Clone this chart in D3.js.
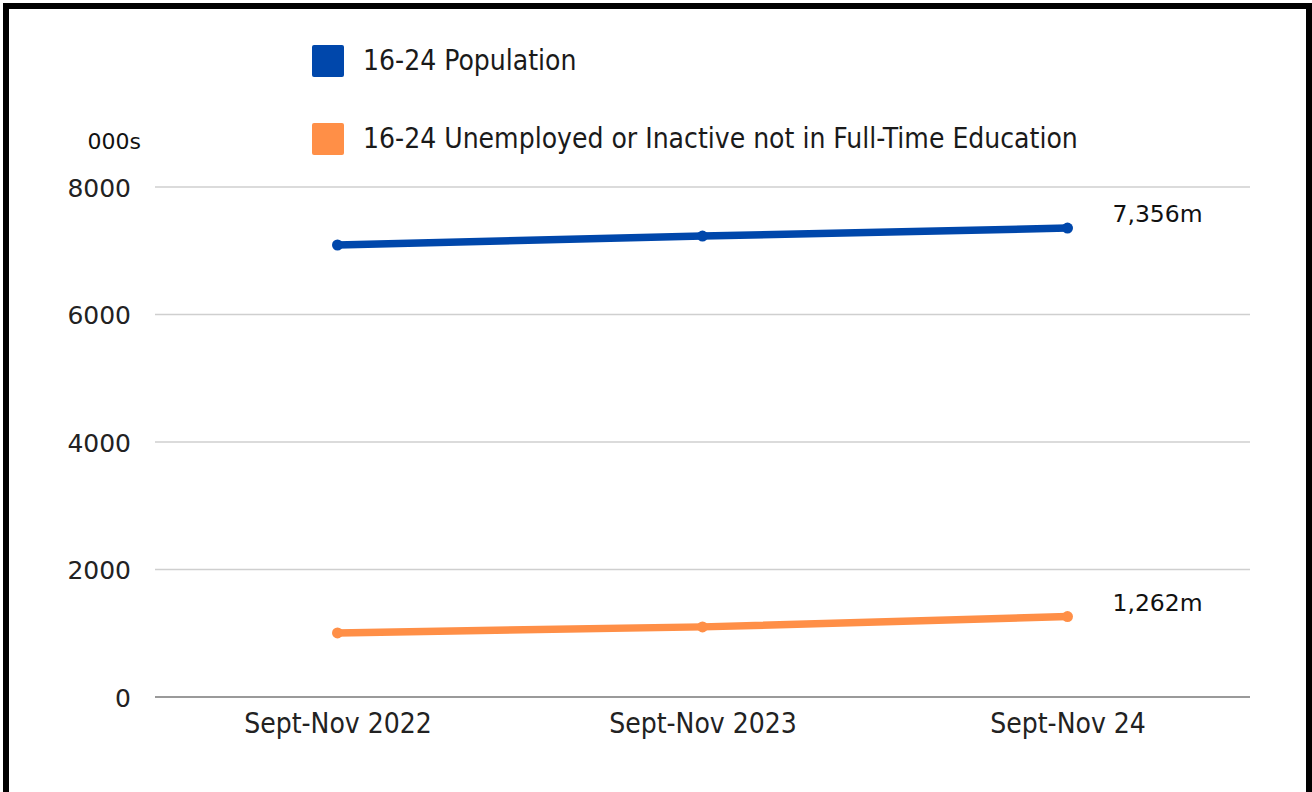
<!DOCTYPE html>
<html>
<head>
<meta charset="utf-8">
<script src="https://cdn.jsdelivr.net/npm/d3@7"></script>
<style>
  body { margin: 0; background: #fff; }
  svg { display: block; }
</style>
</head>
<body>
<div id="chart"></div>
<script>
(function () {

  // Data
  const periods = ["Sept-Nov 2022", "Sept-Nov 2023", "Sept-Nov 24"]
  const population = [7090, 7230, 7356]
  const neet = [1005, 1100, 1262]
  const seriesNames = ["16-24 Population", "16-24 Unemployed or Inactive not in Full-Time Education"]
  const endLabels = ["7,356m", "1,262m"]
  const yTicks = [0, 2000, 4000, 6000, 8000]

  const W = 1312
  const H = 792
  const margin = { top: 187, right: 62, bottom: 95, left: 155 }
  const width = W - margin.left - margin.right
  const height = H - margin.top - margin.bottom

  const colors = ["#0047AB", "#FF8F47"]
  const narrow = "'Liberation Sans Narrow', 'DejaVu Sans Condensed', 'Arial Narrow', sans-serif"
  const plain = "'DejaVu Sans', 'Noto Sans', sans-serif"

  const root = d3.select("#chart").append("svg")
      .attr("width", W)
      .attr("height", H)

  // frame
  root.append("rect")
      .attr("x", 6).attr("y", 6)
      .attr("width", 1303).attr("height", 820)
      .attr("fill", "none")
      .attr("stroke", "#000")
      .attr("stroke-width", 6)

  const svg = root.append("g")
      .attr("transform", "translate(" + margin.left + "," + margin.top + ")")

  const x = d3.scalePoint()
    .domain(periods)
    .range([0, width])
    .padding(0.5)

  const y = d3.scaleLinear()
    .domain([0, 8000])
    .range([height, 0])

  // gridlines
  svg.selectAll(".grid")
    .data(yTicks)
    .join("line")
      .attr("class", "grid")
      .attr("x1", 0).attr("x2", width)
      .attr("y1", d => y(d)).attr("y2", d => y(d))
      .attr("stroke", d => d === 0 ? "#9a9a9a" : "#cfcfcf")
      .attr("stroke-width", d => d === 0 ? 2 : 1.3)

  // y axis labels
  const yAxis = svg.append("g")
      .attr("transform", "translate(-21,0)")
      .call(d3.axisLeft(y).tickValues(yTicks).tickSize(0).tickFormat(d3.format("d")))
  yAxis.select(".domain").remove()
  yAxis.selectAll("text")
      .attr("font-family", plain)
      .attr("font-size", 25)
      .attr("fill", "#222")
      .attr("dy", "0.36em")

  svg.append("text")
      .attr("x", -14)
      .attr("y", -38)
      .attr("text-anchor", "end")
      .attr("font-family", plain)
      .attr("font-size", 22)
      .attr("fill", "#111")
      .text("000s")

  // x axis labels
  const xAxis = svg.append("g")
      .attr("transform", "translate(0," + height + ")")
      .call(d3.axisBottom(x).tickSize(0).tickPadding(16))
  xAxis.select(".domain").remove()
  xAxis.selectAll("text")
      .attr("font-family", narrow)
      .attr("font-size", 28)
      .attr("fill", "#222")

  // lines
  const line = d3.line()
    .x((d, i) => x(periods[i]))
    .y(d => y(d))

  const series = [population, neet]

  series.forEach((s, k) => {
    svg.append("path")
        .datum(s)
        .attr("d", line)
        .attr("fill", "none")
        .attr("stroke", colors[k])
        .attr("stroke-width", 7.5)
        .attr("stroke-linecap", "round")

    svg.selectAll(".pt" + k)
      .data(s)
      .join("circle")
        .attr("class", "pt" + k)
        .attr("cx", (d, i) => x(periods[i]))
        .attr("cy", d => y(d))
        .attr("r", 5.5)
        .attr("fill", colors[k])

    svg.append("text")
        .attr("x", x(periods[2]) + 45)
        .attr("y", y(s[2]) - 6)
        .attr("font-family", plain)
        .attr("font-size", 23.5)
        .attr("fill", "#111")
        .text(endLabels[k])
  })

  // legend
  const legend = root.append("g")
      .attr("transform", "translate(312,45)")

  seriesNames.forEach((name, k) => {
    const g = legend.append("g")
        .attr("transform", "translate(0," + (k * 78) + ")")
    g.append("rect")
        .attr("width", 32).attr("height", 32)
        .attr("rx", 2)
        .attr("fill", colors[k])
    g.append("text")
        .attr("x", 51)
        .attr("y", 25)
        .attr("font-family", narrow)
        .attr("font-size", 28)
        .attr("fill", "#1a1a1a")
        .text(name)
  })

})();
</script>
</body>
</html>
